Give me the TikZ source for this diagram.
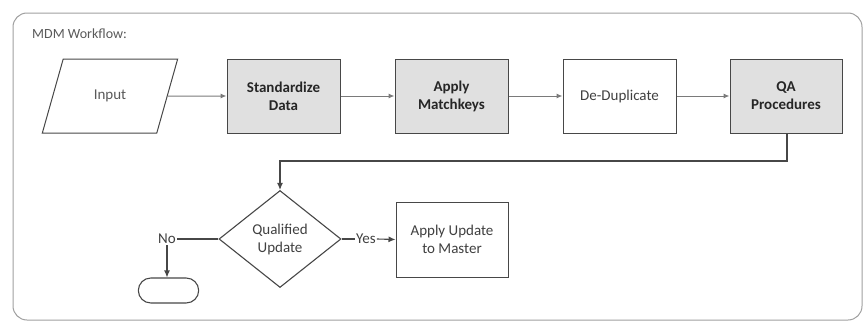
\documentclass[tikz,border=0pt]{standalone}
\usepackage{fontspec}
\setmainfont{Carlito}
\usetikzlibrary{shapes.geometric,shapes.misc,arrows.meta}
\definecolor{boxgray}{HTML}{E0E0E0}
\definecolor{linegray}{HTML}{474747}
\definecolor{flowgray}{HTML}{7A7A7A}
\tikzset{
  px/.style={x=1pt,y=-1pt},
  bodyfont/.style={font=\fontsize{15}{18}\selectfont},
  procbox/.style={draw=linegray,line width=1pt,fill=boxgray,minimum width=113pt,minimum height=74pt,align=center,font=\bfseries\fontsize{15}{18}\selectfont,text=black!85},
  plainbox/.style={draw=linegray,line width=1pt,fill=white,minimum width=113pt,minimum height=74pt,align=center,bodyfont,text=black!75},
  flow/.style={draw=flowgray,line width=1pt,-{Latex[length=6pt,width=5pt]}},
  darkflow/.style={draw=linegray,line width=1.1pt,-{Latex[length=7pt,width=6pt]}},
  lbl/.style={bodyfont,text=black!75,inner sep=1pt}
}
\begin{document}
\begin{tikzpicture}[px]
\useasboundingbox (0,0) rectangle (868,324);
% outer frame
\draw[draw=gray!75,line width=1pt,rounded corners=14pt] (13,13) rectangle (862,320);
\node[anchor=west,font=\fontsize{14}{16}\selectfont,text=black!65,inner sep=0pt] (title) at (32,34) {MDM Workflow:};

% input parallelogram
\node[draw=linegray,line width=1pt,trapezium,trapezium left angle=65,trapezium right angle=115,minimum width=136pt,minimum height=74pt,trapezium stretches=true,bodyfont,text=black!65] (in) at (110,96) {Input};

\node[procbox] (std) at (283.5,96) {Standardize\\Data};
\node[procbox] (mk) at (451.5,96) {Apply\\Matchkeys};
\node[plainbox] (dd) at (619.5,96) {De-Duplicate};
\node[procbox,minimum width=112pt] (qa) at (786,96) {QA\\Procedures};

\draw[flow] (in.east) -- (std.west);
\draw[flow] (std) -- (mk);
\draw[flow] (mk) -- (dd);
\draw[flow] (dd) -- (qa);

% decision
\node[draw=linegray,line width=1.1pt,diamond,aspect=1.26,minimum width=122pt,minimum height=97pt,inner sep=0pt,align=center,bodyfont,text=black!75] (dec) at (280,239) {Qualified\\Update};
\node[plainbox,minimum width=112pt,minimum height=75pt] (upd) at (452,239.5) {Apply Update\\to Master};
\node[draw=linegray,line width=1.1pt,rounded rectangle,minimum width=67pt,minimum height=25pt] (term) at (168.5,290.5) {};

\coordinate (qaout) at (787,133);
\draw[darkflow] (qaout) |- (280,161) -- (dec.north);

\node[lbl] (yes) at (366,239) {Yes};
\draw[linegray,line width=1.1pt] (dec.east) -- (yes.west);
\draw[darkflow] (yes.east) -- (upd.west);

\node[lbl] (no) at (167,239) {No};
\draw[linegray,line width=1.1pt] (dec.west) -- (no.east);
\draw[darkflow] (no.south) -- (no.south |- term.north);
\end{tikzpicture}
\end{document}
